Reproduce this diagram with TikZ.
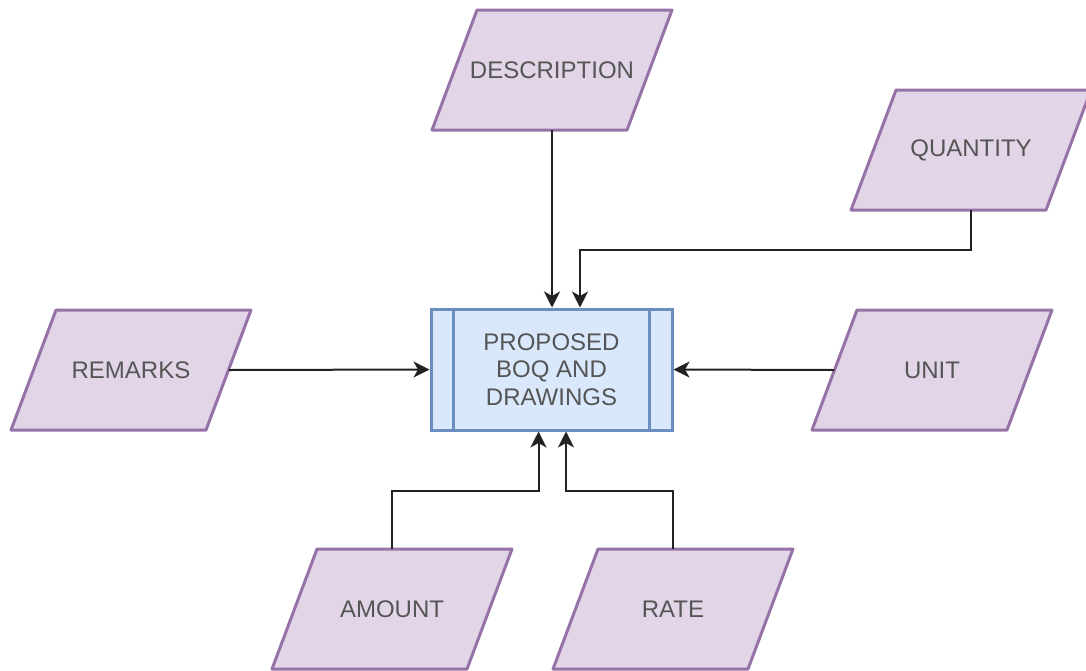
\documentclass[tikz,border=0pt]{standalone}
\usepackage{fontspec}
\setmainfont{Liberation Sans}
\usetikzlibrary{arrows.meta,calc,backgrounds}
\definecolor{pfill}{HTML}{E1D5E7}
\definecolor{pline}{HTML}{9673A6}
\definecolor{bfill}{HTML}{DAE8FC}
\definecolor{bline}{HTML}{6C8EBF}
\definecolor{txt}{HTML}{555555}
\definecolor{wire}{HTML}{222222}
\begin{document}
\begin{tikzpicture}[x=1pt,y=-1pt,
  every node/.style={font=\fontsize{24}{27.6}\selectfont,text=txt},
  datainput/.style={rectangle, minimum width=195pt, minimum height=120pt, inner sep=0pt},
  slanted/.style={fill=pfill, draw=pline, line width=3pt, line join=round},
  process/.style={rectangle, minimum width=241pt, minimum height=121pt,
    inner sep=0pt, fill=bfill, draw=bline, line width=3pt, align=center},
  link/.style={draw=wire, line width=2pt,
    -{Stealth[length=16pt,width=16pt,inset=4.5pt]}}]
\useasboundingbox (0,0) rectangle (1086,670);

% central process box
\node[process] (box) at (551.5,369.5) {PROPOSED\\BOQ AND\\DRAWINGS};
\draw[bline, line width=3pt] ($(box.north west)+(24,0)$) -- ($(box.south west)+(24,0)$);
\draw[bline, line width=3pt] ($(box.north east)+(-24,0)$) -- ($(box.south east)+(-24,0)$);

% input items
\node[datainput] (desc) at (552,70)  {DESCRIPTION};
\node[datainput] (qty)  at (971,150) {QUANTITY};
\node[datainput] (rem)  at (131,370) {REMARKS};
\node[datainput] (unit) at (932,370) {UNIT};
\node[datainput] (amt)  at (392,609) {AMOUNT};
\node[datainput] (rate) at (673,609) {RATE};

% parallelogram outlines behind the input labels
\begin{scope}[on background layer]
  \foreach \n in {desc,qty,rem,unit,amt,rate}
    \path[slanted] ($(\n.center)+(-120,60)$) -- ($(\n.center)+(75,60)$)
      -- ($(\n.center)+(120,-60)$) -- ($(\n.center)+(-75,-60)$) -- cycle;
\end{scope}

% connectors into the process box
\draw[link] (desc.south) -- (desc.south |- box.north);
\draw[link] (qty.south) -- ++(0,40) -| ($(box.north)+(28.5,0)$);
\draw[link] (rem.east) -- (box.west);
\draw[link] (unit.west) -- (box.east);
\draw[link] (amt.north) -- ++(0,-58) -| ($(box.south)+(-13,0)$);
\draw[link] (rate.north) -- ++(0,-58) -| ($(box.south)+(14.5,0)$);
\end{tikzpicture}
\end{document}
